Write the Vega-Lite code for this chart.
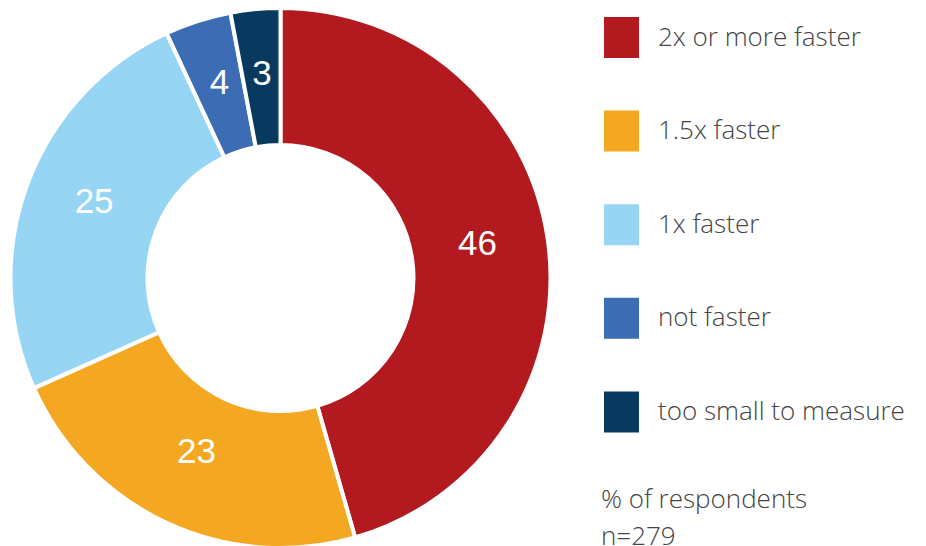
{
  "$schema": "https://vega.github.io/schema/vega-lite/v6.json",
  "width": 561,
  "height": 550,
  "padding": 0,
  "background": "white",
  "config": {"view": {"stroke": null}},
  "data": {
    "values": [
      {"category": "2x or more faster", "value": 46, "order": 1},
      {"category": "1.5x faster", "value": 23, "order": 2},
      {"category": "1x faster", "value": 25, "order": 3},
      {"category": "not faster", "value": 4, "order": 4},
      {"category": "too small to measure", "value": 3, "order": 5}
    ]
  },
  "encoding": {
    "theta": {"field": "value", "type": "quantitative", "stack": true},
    "order": {"field": "order", "type": "quantitative"},
    "color": {
      "field": "category",
      "type": "nominal",
      "scale": {
        "domain": ["2x or more faster", "1.5x faster", "1x faster", "not faster", "too small to measure"],
        "range": ["#B31A1F", "#F4A720", "#97D5F4", "#3C6DB4", "#073A5E"]
      },
      "legend": {
        "orient": "none",
        "legendX": 601,
        "legendY": 14,
        "title": ["% of respondents", "n=279"],
        "titleOrient": "bottom",
        "titleAnchor": "start",
        "titleFont": "Open Sans",
        "titleFontSize": 26,
        "titleFontWeight": 300,
        "titleColor": "#444444",
        "titleLineHeight": 37,
        "titlePadding": 55,
        "titleLimit": 400,
        "symbolType": "M-0.854,-1H0.854V1H-0.854Z",
        "symbolSize": 1681,
        "symbolStrokeWidth": 0,
        "symbolOpacity": 1,
        "labelFont": "Open Sans",
        "labelFontSize": 26,
        "labelFontWeight": 300,
        "labelColor": "#444444",
        "labelOffset": 16,
        "labelLimit": 400,
        "rowPadding": 52.6,
        "padding": 0
      }
    }
  },
  "layer": [
    {
      "mark": {"type": "arc", "outerRadius": 270, "innerRadius": 133, "stroke": "white", "strokeWidth": 4}
    },
    {
      "mark": {"type": "text", "radius": 199, "dy": -6, "fontSize": 35, "font": "Liberation Sans", "fill": "white"},
      "encoding": {
        "text": {"field": "value", "type": "quantitative"},
        "color": {"value": "white"}
      }
    }
  ]
}
